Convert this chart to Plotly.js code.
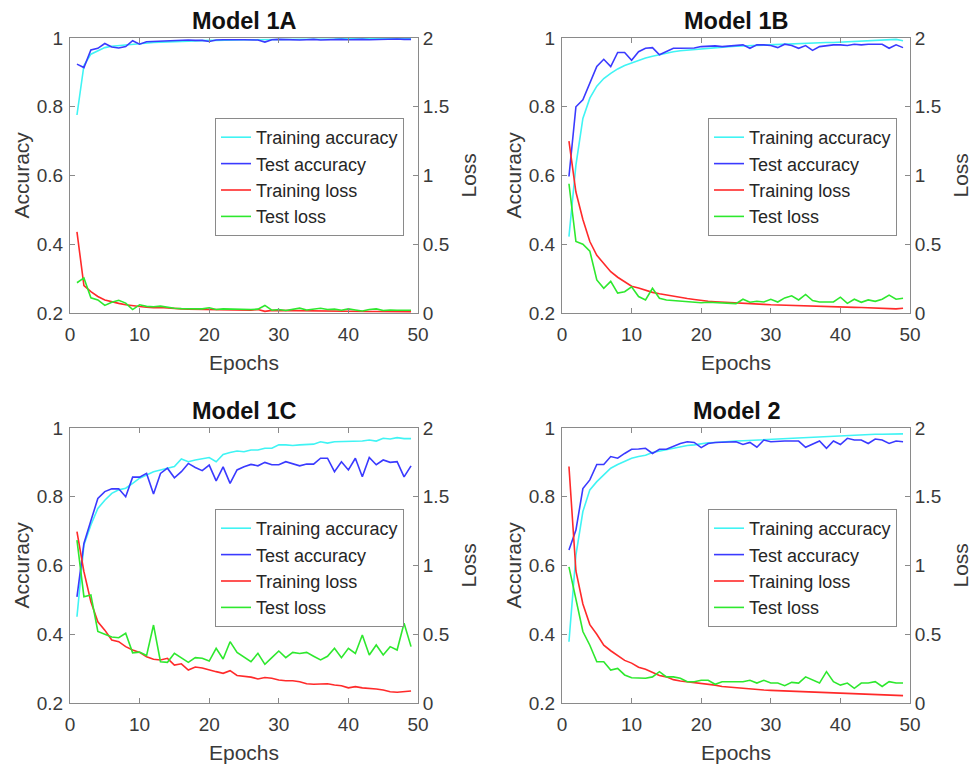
<!DOCTYPE html>
<html>
<head>
<meta charset="utf-8">
<script src="https://cdn.plot.ly/plotly-3.0.1.min.js"></script>
<style>
  html, body { margin: 0; padding: 0; background: #ffffff; }
  #chart { width: 972px; height: 765px; }
</style>
</head>
<body>
<div id="chart"></div>
<script>
// ---------- data ----------
const epochs = Array.from({length: 49}, (_, i) => i + 1);

const panelTitles = ["Model 1A", "Model 1B", "Model 1C", "Model 2"];
const seriesNames = ["Training accuracy", "Test accuracy", "Training loss", "Test loss"];

const accTickVals = [0.2, 0.4, 0.6, 0.8, 1];
const accTickText = ["0.2", "0.4", "0.6", "0.8", "1"];
const lossTickVals = [0, 0.5, 1, 1.5, 2];
const lossTickText = ["0", "0.5", "1", "1.5", "2"];
const epochTickVals = [0, 10, 20, 30, 40, 50];
const epochTickText = ["0", "10", "20", "30", "40", "50"];

// Model 1A
const m1aTrainAcc = [0.776,0.92,0.953,0.963,0.972,0.976,0.978,0.981,0.983,0.985,0.986,0.987,0.988,0.989,0.99,0.991,0.991,0.992,0.992,0.993,0.993,0.994,0.994,0.994,0.995,0.995,0.995,0.995,0.996,0.996,0.996,0.996,0.997,0.997,0.997,0.997,0.997,0.997,0.998,0.998,0.998,0.998,0.998,0.998,0.998,0.999,0.999,0.999,0.999];
const m1aTestAcc = [0.924,0.914,0.965,0.97,0.984,0.974,0.971,0.975,0.992,0.982,0.989,0.99,0.989,0.991,0.993,0.994,0.994,0.993,0.993,0.99,0.994,0.995,0.994,0.995,0.995,0.995,0.994,0.988,0.995,0.996,0.995,0.995,0.994,0.995,0.996,0.994,0.995,0.996,0.996,0.995,0.996,0.996,0.995,0.996,0.997,0.996,0.997,0.996,0.996];
const m1aTrainLoss = [0.59,0.2,0.155,0.12,0.095,0.08,0.07,0.06,0.052,0.047,0.042,0.038,0.04,0.035,0.032,0.03,0.028,0.027,0.026,0.025,0.024,0.023,0.022,0.022,0.021,0.02,0.025,0.012,0.019,0.018,0.017,0.017,0.016,0.016,0.015,0.015,0.014,0.014,0.013,0.013,0.012,0.012,0.011,0.011,0.011,0.01,0.01,0.01,0.01];
const m1aTestLoss = [0.22,0.255,0.11,0.095,0.055,0.078,0.092,0.072,0.025,0.06,0.048,0.045,0.05,0.042,0.035,0.032,0.03,0.028,0.03,0.038,0.025,0.03,0.028,0.025,0.022,0.025,0.028,0.055,0.02,0.025,0.018,0.028,0.035,0.022,0.028,0.035,0.025,0.028,0.02,0.03,0.022,0.015,0.025,0.03,0.018,0.022,0.02,0.018,0.02];

// Model 1B
const m1bTrainAcc = [0.422,0.63,0.766,0.825,0.86,0.882,0.897,0.91,0.92,0.928,0.935,0.942,0.947,0.952,0.956,0.96,0.963,0.965,0.967,0.969,0.971,0.972,0.974,0.975,0.976,0.977,0.978,0.979,0.98,0.981,0.982,0.983,0.983,0.984,0.985,0.985,0.986,0.987,0.987,0.988,0.988,0.989,0.99,0.99,0.991,0.992,0.993,0.996,0.992];
const m1bTestAcc = [0.597,0.8,0.82,0.868,0.917,0.938,0.917,0.958,0.958,0.935,0.96,0.97,0.972,0.951,0.96,0.97,0.97,0.97,0.971,0.975,0.976,0.977,0.975,0.977,0.978,0.98,0.97,0.98,0.98,0.978,0.972,0.982,0.978,0.97,0.978,0.964,0.975,0.978,0.98,0.98,0.978,0.982,0.98,0.982,0.983,0.982,0.97,0.98,0.972];
const m1bTrainLoss = [1.25,0.88,0.68,0.52,0.42,0.36,0.3,0.26,0.225,0.195,0.182,0.165,0.15,0.14,0.13,0.12,0.112,0.105,0.098,0.09,0.085,0.082,0.08,0.077,0.074,0.072,0.068,0.065,0.063,0.06,0.058,0.056,0.054,0.052,0.05,0.049,0.047,0.046,0.045,0.044,0.042,0.041,0.04,0.039,0.038,0.036,0.035,0.03,0.035];
const m1bTestLoss = [0.94,0.52,0.5,0.45,0.24,0.18,0.23,0.145,0.155,0.19,0.12,0.095,0.18,0.107,0.095,0.09,0.085,0.08,0.08,0.075,0.078,0.075,0.07,0.07,0.068,0.1,0.078,0.085,0.08,0.1,0.08,0.11,0.125,0.095,0.135,0.09,0.08,0.08,0.08,0.115,0.07,0.1,0.078,0.095,0.085,0.1,0.13,0.1,0.107];

// Model 1C
const m1cTrainAcc = [0.451,0.66,0.718,0.766,0.79,0.81,0.82,0.825,0.839,0.854,0.863,0.873,0.878,0.883,0.888,0.91,0.902,0.907,0.91,0.914,0.902,0.923,0.929,0.933,0.931,0.936,0.936,0.941,0.941,0.951,0.951,0.949,0.951,0.953,0.953,0.96,0.956,0.96,0.96,0.96,0.962,0.962,0.965,0.962,0.97,0.968,0.972,0.969,0.969];
const m1cTestAcc = [0.509,0.664,0.73,0.795,0.815,0.823,0.823,0.8,0.857,0.857,0.868,0.808,0.868,0.883,0.855,0.873,0.897,0.885,0.876,0.892,0.846,0.887,0.839,0.878,0.887,0.894,0.89,0.9,0.893,0.893,0.902,0.895,0.89,0.895,0.895,0.912,0.912,0.873,0.902,0.878,0.912,0.858,0.914,0.893,0.907,0.9,0.902,0.858,0.89];
const m1cTrainLoss = [1.246,0.955,0.737,0.59,0.53,0.458,0.446,0.41,0.385,0.368,0.337,0.318,0.313,0.325,0.276,0.285,0.24,0.262,0.255,0.24,0.228,0.216,0.235,0.2,0.193,0.188,0.175,0.185,0.18,0.167,0.162,0.162,0.155,0.14,0.136,0.136,0.14,0.131,0.126,0.11,0.119,0.11,0.107,0.102,0.095,0.082,0.078,0.082,0.087];
const m1cTestLoss = [1.185,0.773,0.785,0.52,0.5,0.48,0.475,0.507,0.365,0.37,0.345,0.567,0.3,0.296,0.361,0.33,0.296,0.33,0.325,0.305,0.398,0.32,0.446,0.368,0.337,0.3,0.361,0.281,0.33,0.378,0.33,0.368,0.36,0.368,0.34,0.313,0.34,0.398,0.33,0.398,0.36,0.495,0.349,0.422,0.349,0.41,0.385,0.58,0.41];

// Model 2
const m2TrainAcc = [0.378,0.63,0.757,0.82,0.844,0.865,0.883,0.894,0.902,0.912,0.917,0.921,0.929,0.933,0.937,0.943,0.946,0.949,0.951,0.955,0.957,0.958,0.96,0.961,0.962,0.963,0.964,0.966,0.967,0.968,0.969,0.97,0.971,0.972,0.974,0.975,0.975,0.976,0.977,0.978,0.979,0.979,0.98,0.981,0.982,0.982,0.983,0.983,0.983];
const m2TestAcc = [0.645,0.703,0.824,0.849,0.894,0.894,0.917,0.912,0.926,0.938,0.939,0.941,0.926,0.938,0.938,0.946,0.955,0.96,0.958,0.943,0.955,0.958,0.958,0.958,0.96,0.952,0.958,0.944,0.965,0.96,0.962,0.962,0.962,0.962,0.944,0.952,0.962,0.941,0.962,0.952,0.97,0.965,0.965,0.955,0.968,0.965,0.955,0.962,0.96];
const m2TrainLoss = [1.72,0.96,0.72,0.57,0.5,0.42,0.38,0.345,0.31,0.29,0.26,0.245,0.22,0.2,0.19,0.17,0.16,0.155,0.15,0.14,0.135,0.13,0.12,0.115,0.11,0.105,0.1,0.1,0.095,0.092,0.09,0.088,0.085,0.083,0.08,0.078,0.076,0.074,0.072,0.07,0.068,0.066,0.064,0.062,0.06,0.058,0.056,0.055,0.054];
const m2TestLoss = [0.99,0.75,0.52,0.42,0.3,0.3,0.24,0.252,0.204,0.184,0.18,0.18,0.19,0.228,0.19,0.19,0.18,0.155,0.155,0.165,0.165,0.136,0.155,0.155,0.155,0.155,0.165,0.145,0.165,0.145,0.145,0.126,0.15,0.145,0.19,0.165,0.145,0.228,0.155,0.13,0.145,0.107,0.145,0.145,0.155,0.12,0.155,0.145,0.145];

// ---------- styling / layout ----------
const W = 972, H = 765;
const FONT = "Liberation Sans, Arial, sans-serif";
const TXT = "#3a3a3a";
const AXC = "#8a8a8a";
const colors = ["#40f4f4", "#3a3aff", "#ff2a2a", "#2ee82e"];

const panelData = [
  [m1aTrainAcc, m1aTestAcc, m1aTrainLoss, m1aTestLoss],
  [m1bTrainAcc, m1bTestAcc, m1bTrainLoss, m1bTestLoss],
  [m1cTrainAcc, m1cTestAcc, m1cTrainLoss, m1cTestLoss],
  [m2TrainAcc, m2TestAcc, m2TrainLoss, m2TestLoss]
];

// plot boxes in pixels: [left, right, top, bottom]
const boxes = [
  [70, 418, 38, 313],
  [562, 910, 38, 313],
  [70, 418, 428, 703],
  [562, 910, 428, 703]
];
// legend box right/top pixels
const legendPos = [[404, 118], [897, 118], [404, 509], [897, 509]];

const px = x => x / W;
const py = y => (H - y) / H;

const traces = [];
const layout = {
  width: W, height: H,
  margin: {l: 0, r: 0, t: 0, b: 0},
  paper_bgcolor: "#ffffff",
  plot_bgcolor: "#ffffff",
  font: {family: FONT, color: TXT, size: 19},
  showlegend: true,
  annotations: []
};

boxes.forEach((b, i) => {
  const n = i + 1;
  const xa = n === 1 ? "x" : "x" + n;
  const yl = "y" + (2 * n - 1 === 1 ? "" : (2 * n - 1));
  const yr = "y" + (2 * n);
  const legendId = n === 1 ? "legend" : "legend" + n;
  const d = panelData[i];

  for (let k = 0; k < 4; k++) {
    traces.push({
      type: "scatter", mode: "lines",
      x: epochs, y: d[k],
      name: seriesNames[k],
      xaxis: xa, yaxis: k < 2 ? yl : yr,
      line: {color: colors[k], width: 1.6},
      legend: legendId,
      hoverinfo: "skip"
    });
  }

  const xKey = n === 1 ? "xaxis" : "xaxis" + n;
  const ylKey = (2 * n - 1) === 1 ? "yaxis" : "yaxis" + (2 * n - 1);
  const yrKey = "yaxis" + (2 * n);

  layout[xKey] = {
    domain: [px(b[0]), px(b[1])],
    anchor: yl,
    range: [0, 50],
    tickvals: epochTickVals, ticktext: epochTickText,
    ticks: "inside", ticklen: 5, tickcolor: AXC, tickwidth: 1,
    showline: true, linecolor: AXC, linewidth: 1, mirror: "ticks",
    showgrid: false, zeroline: false,
    tickfont: {family: FONT, size: 19, color: TXT},
    ticklabelstandoff: 4,
    fixedrange: true
  };
  layout[ylKey] = {
    domain: [py(b[3]), py(b[2])],
    anchor: xa,
    range: [0.2, 1],
    tickvals: accTickVals, ticktext: accTickText,
    ticks: "inside", ticklen: 5, tickcolor: AXC, tickwidth: 1,
    showline: true, linecolor: AXC, linewidth: 1,
    showgrid: false, zeroline: false,
    tickfont: {family: FONT, size: 19, color: TXT},
    ticklabelstandoff: 2,
    fixedrange: true
  };
  layout[yrKey] = {
    domain: [py(b[3]), py(b[2])],
    anchor: xa,
    overlaying: yl,
    side: "right",
    range: [0, 2],
    tickvals: lossTickVals, ticktext: lossTickText,
    ticks: "inside", ticklen: 5, tickcolor: AXC, tickwidth: 1,
    showline: true, linecolor: AXC, linewidth: 1,
    showgrid: false, zeroline: false,
    tickfont: {family: FONT, size: 19, color: TXT},
    ticklabelstandoff: 0,
    fixedrange: true
  };

  layout[legendId] = {
    x: px(legendPos[i][0]), xanchor: "right",
    y: py(legendPos[i][1]), yanchor: "top",
    bgcolor: "#ffffff",
    bordercolor: "#8a8a8a", borderwidth: 1,
    font: {family: FONT, size: 18, color: "#262626"},
    tracegroupgap: 0,
    itemwidth: 30
  };

  const cx = (b[0] + b[1]) / 2;
  const cy = (b[2] + b[3]) / 2;
  // panel title
  layout.annotations.push({
    text: "<b>" + panelTitles[i] + "</b>",
    xref: "paper", yref: "paper",
    x: px(cx), y: py(b[2] - 17),
    xanchor: "center", yanchor: "middle",
    showarrow: false,
    font: {family: FONT, size: 23.5, color: "#111111"}
  });
  // x axis title
  layout.annotations.push({
    text: "Epochs",
    xref: "paper", yref: "paper",
    x: px(cx), y: py(b[3] + 49),
    xanchor: "center", yanchor: "middle",
    showarrow: false,
    font: {family: FONT, size: 21, color: TXT}
  });
  // left y title
  layout.annotations.push({
    text: "Accuracy",
    xref: "paper", yref: "paper",
    x: px(b[0] - 49), y: py(cy),
    xanchor: "center", yanchor: "middle",
    textangle: -90,
    showarrow: false,
    font: {family: FONT, size: 21, color: TXT}
  });
  // right y title
  layout.annotations.push({
    text: "Loss",
    xref: "paper", yref: "paper",
    x: px(b[1] + 50), y: py(cy),
    xanchor: "center", yanchor: "middle",
    textangle: -90,
    showarrow: false,
    font: {family: FONT, size: 21, color: TXT}
  });
});

Plotly.newPlot("chart", traces, layout, {staticPlot: true, displayModeBar: false});
</script>
</body>
</html>
